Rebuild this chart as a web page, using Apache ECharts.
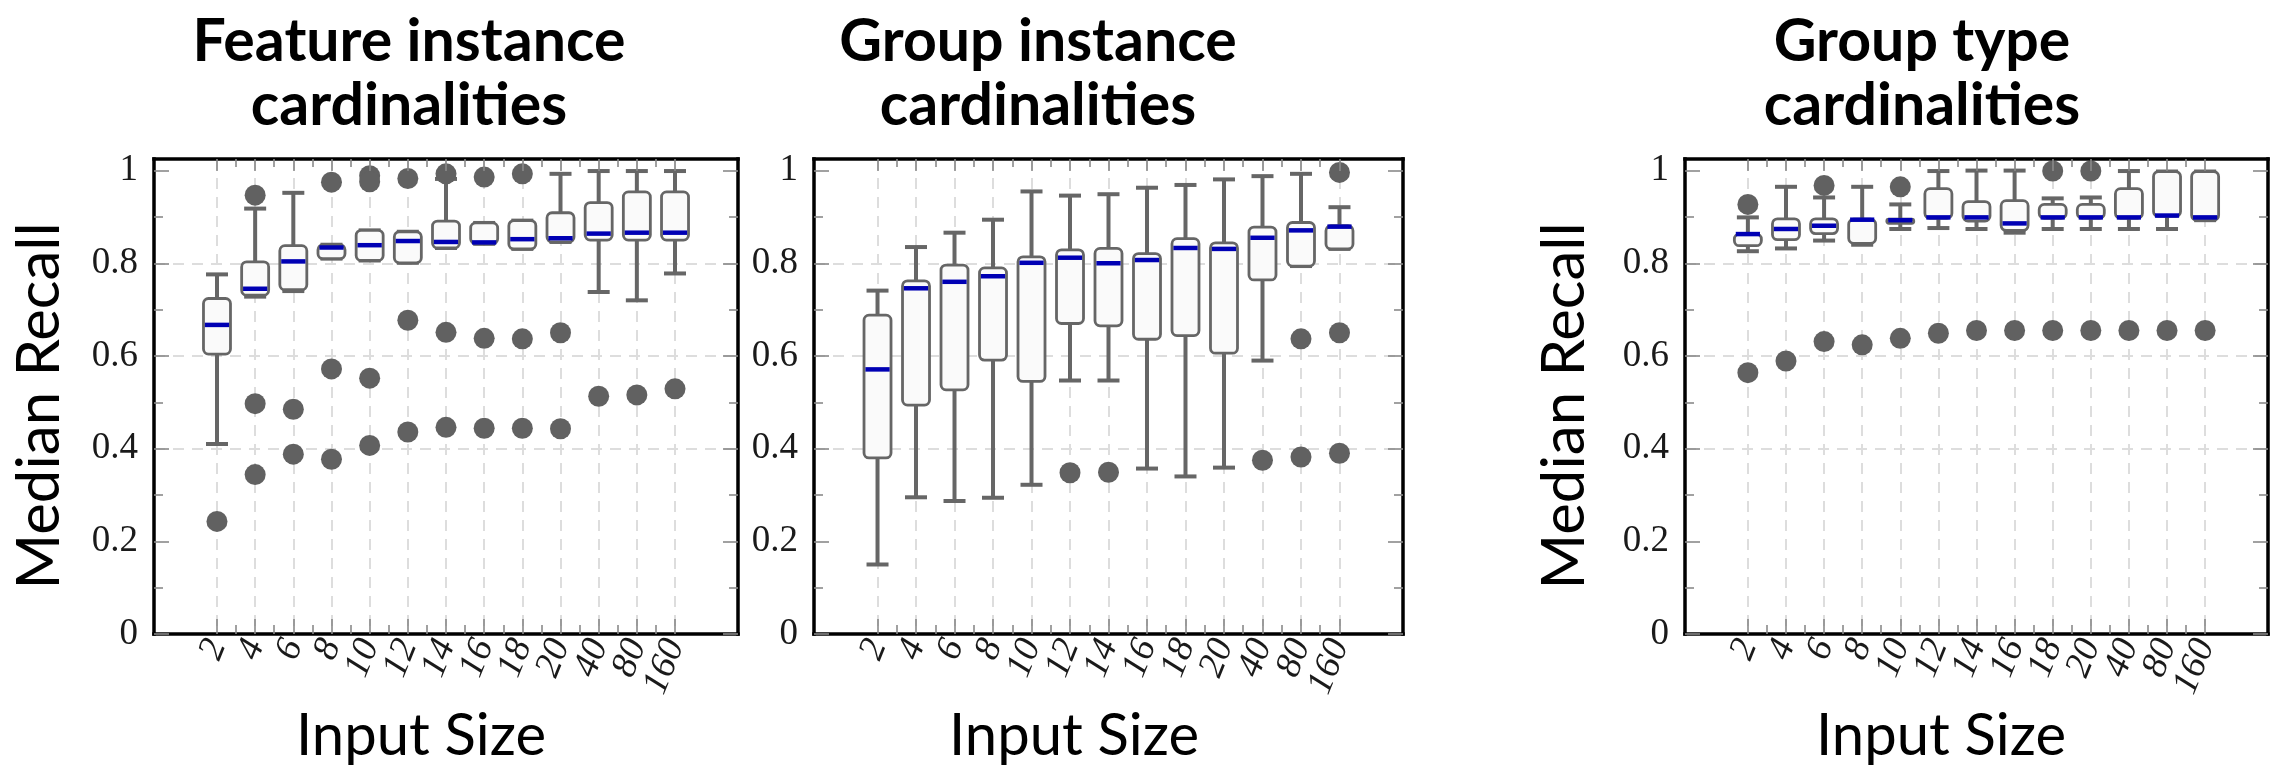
<!DOCTYPE html>
<html>
<head>
<meta charset="utf-8">
<script src="https://cdn.jsdelivr.net/npm/echarts@6/dist/echarts.min.js"></script>
<style>
  html, body { margin: 0; padding: 0; background: #fff; }
  #chart { width: 2282px; height: 765px; }
</style>
</head>
<body>
<div id="chart"></div>
<script>
// x categories (input size)
const inputSizes = ['2', '4', '6', '8', '10', '12', '14', '16', '18', '20', '40', '80', '160'];

// Feature instance cardinalities
const featureLow  = [0.410, 0.728, 0.740, 0.810, 0.806, 0.801, 0.833, 0.842, 0.831, 0.846, 0.738, 0.720, 0.778];
const featureQ1   = [0.604, 0.731, 0.743, 0.810, 0.806, 0.801, 0.833, 0.842, 0.831, 0.846, 0.850, 0.850, 0.850];
const featureMed  = [0.667, 0.745, 0.804, 0.834, 0.839, 0.848, 0.846, 0.845, 0.852, 0.854, 0.864, 0.866, 0.866];
const featureQ3   = [0.724, 0.803, 0.838, 0.840, 0.871, 0.868, 0.891, 0.887, 0.892, 0.909, 0.931, 0.954, 0.954];
const featureHigh = [0.776, 0.918, 0.952, 0.840, 0.871, 0.868, 0.982, 0.887, 0.892, 0.993, 0.999, 0.999, 0.999];
const featureOutliers = [
  [0.243], [0.947, 0.497, 0.344], [0.485, 0.388], [0.975, 0.572, 0.377],
  [0.989, 0.976, 0.552, 0.407], [0.983, 0.677, 0.436], [0.993, 0.651, 0.446],
  [0.986, 0.638, 0.444], [0.993, 0.637, 0.444], [0.650, 0.443], [0.513], [0.516], [0.529]
];

// Group instance cardinalities
const groupLow  = [0.150, 0.295, 0.287, 0.294, 0.322, 0.547, 0.547, 0.357, 0.340, 0.359, 0.590, 0.794, 0.831];
const groupQ1   = [0.380, 0.494, 0.527, 0.591, 0.545, 0.670, 0.665, 0.636, 0.644, 0.606, 0.764, 0.794, 0.831];
const groupMed  = [0.571, 0.746, 0.760, 0.772, 0.801, 0.812, 0.800, 0.807, 0.833, 0.831, 0.855, 0.871, 0.879];
const groupQ3   = [0.688, 0.762, 0.796, 0.790, 0.814, 0.829, 0.832, 0.821, 0.853, 0.844, 0.878, 0.888, 0.881];
const groupHigh = [0.741, 0.835, 0.866, 0.894, 0.955, 0.946, 0.949, 0.963, 0.969, 0.981, 0.988, 0.993, 0.921];
const groupOutliers = [
  [], [], [], [], [], [0.348], [0.349], [], [], [],
  [0.375], [0.637, 0.382], [0.996, 0.650, 0.390]
];

// Group type cardinalities
const typeLow  = [0.826, 0.832, 0.849, 0.840, 0.874, 0.876, 0.874, 0.866, 0.874, 0.874, 0.874, 0.874, 0.893];
const typeQ1   = [0.838, 0.851, 0.864, 0.843, 0.886, 0.897, 0.891, 0.871, 0.897, 0.897, 0.897, 0.901, 0.893];
const typeMed  = [0.863, 0.874, 0.881, 0.894, 0.893, 0.899, 0.899, 0.886, 0.899, 0.899, 0.899, 0.903, 0.899];
const typeQ3   = [0.863, 0.896, 0.896, 0.895, 0.895, 0.961, 0.933, 0.935, 0.927, 0.927, 0.961, 0.998, 0.998];
const typeHigh = [0.899, 0.965, 0.942, 0.965, 0.927, 0.999, 1.000, 1.000, 0.940, 0.942, 0.999, 0.998, 0.998];
const typeOutliers = [
  [0.927, 0.564], [0.589], [0.968, 0.631], [0.624], [0.965, 0.638], [0.649], [0.655],
  [0.655], [0.999, 0.655], [0.999, 0.655], [0.655], [0.655], [0.655]
];

const panels = [
  { title: 'Feature instance\ncardinalities', low: featureLow, q1: featureQ1, med: featureMed, q3: featureQ3, high: featureHigh, out: featureOutliers },
  { title: 'Group instance\ncardinalities', low: groupLow, q1: groupQ1, med: groupMed, q3: groupQ3, high: groupHigh, out: groupOutliers },
  { title: 'Group type\ncardinalities', low: typeLow, q1: typeQ1, med: typeMed, q3: typeQ3, high: typeHigh, out: typeOutliers }
];

// layout
const gridBoxes = [
  { left: 154, width: 584, titleX: 409, xNameX: 421, yNameX: 40 },
  { left: 814, width: 589, titleX: 1038, xNameX: 1074, yNameX: null },
  { left: 1685, width: 583, titleX: 1922, xNameX: 1941, yNameX: 1565 }
];
const TOP = 159, HEIGHT = 475;
const X_MIN = -0.65, X_MAX = 14.65;
const Y_MIN = 0, Y_MAX = 1.025;

const catPos = inputSizes.map((_, i) => i + 1);
const halfPos = inputSizes.slice(1).map((_, i) => i + 1.5);
// labels split over two axes so ECharts does not drop neighbours of the rotated labels
const oddPos = catPos.filter(v => v % 2 === 1);
const evenPos = catPos.filter(v => v % 2 === 0);
const yMajor = [0, 0.2, 0.4, 0.6, 0.8, 1.0];
const yMinor = [0.1, 0.3, 0.5, 0.7, 0.9];
const yGrid = [0.2, 0.4, 0.6, 0.8, 1.0];

const EDGE = '#666666';
const MEDIAN = '#0000b4';
const FLIER = '#616161';
const FRAME = { color: '#000', width: 3.5, cap: 'square' };
const TICK = { color: '#8a8a8a', width: 1.6 };
const GRIDLINE = { color: '#dddddd', width: 2, type: [11, 8] };
const SERIF = '"Liberation Serif", "DejaVu Serif", serif';
const SANS = 'Lato, "Open Sans", sans-serif';

const xLabelStyle = {
  show: true, rotate: 68, margin: 7,
  showMinLabel: true, showMaxLabel: true, hideOverlap: false,
  formatter: v => inputSizes[Math.round(v) - 1],
  fontFamily: SERIF, fontStyle: 'italic', fontSize: 37, color: '#1a1a1a'
};

const xAxes = [];
const yAxes = [];

function addAxis(list, base, extra) {
  list.push(Object.assign({
    type: 'value',
    axisLine: { show: false, onZero: false },
    axisTick: { show: false },
    axisLabel: { show: false },
    splitLine: { show: false }
  }, base, extra));
  return list.length - 1;
}

function buildAxes(g) {
  const xb = { gridIndex: g, min: X_MIN, max: X_MAX };
  const yb = { gridIndex: g, min: Y_MIN, max: Y_MAX };

  // dashed grid lines, below the boxes
  addAxis(xAxes, xb, {
    position: 'bottom', z: 0,
    axisTick: { show: false, customValues: catPos },
    splitLine: { show: true, lineStyle: GRIDLINE }
  });
  addAxis(yAxes, yb, {
    position: 'left', z: 0,
    axisTick: { show: false, customValues: yGrid },
    splitLine: { show: true, showMinLine: false, showMaxLine: false, lineStyle: GRIDLINE }
  });

  // bottom axes: frame line, ticks and labels
  const xMain = addAxis(xAxes, xb, {
    position: 'bottom', z: 5,
    axisLine: { show: true, onZero: false, lineStyle: FRAME },
    axisTick: { show: true, inside: true, length: 15, customValues: catPos, lineStyle: TICK },
    axisLabel: Object.assign({ customValues: oddPos }, xLabelStyle)
  });
  addAxis(xAxes, xb, {
    position: 'bottom', z: 5,
    axisLabel: Object.assign({ customValues: evenPos }, xLabelStyle)
  });
  addAxis(xAxes, xb, {
    position: 'bottom', z: 5,
    axisTick: { show: true, inside: true, length: 9, customValues: halfPos, lineStyle: TICK }
  });
  addAxis(xAxes, xb, {
    position: 'top', z: 5,
    axisLine: { show: true, onZero: false, lineStyle: FRAME },
    axisTick: { show: true, inside: true, length: 12, customValues: catPos, lineStyle: TICK }
  });
  addAxis(xAxes, xb, {
    position: 'top', z: 5,
    axisTick: { show: true, inside: true, length: 8, customValues: halfPos, lineStyle: TICK }
  });

  // left axis with labels
  const yMain = addAxis(yAxes, yb, {
    position: 'left', z: 5,
    axisLine: { show: true, onZero: false, lineStyle: FRAME },
    axisTick: { show: true, inside: true, length: 15, customValues: yMajor, lineStyle: TICK },
    axisLabel: {
      show: true, customValues: yMajor, margin: 16,
      showMinLabel: true, showMaxLabel: true,
      formatter: v => String(Math.round(v * 10) / 10),
      fontFamily: SERIF, fontSize: 37, color: '#1a1a1a'
    }
  });
  addAxis(yAxes, yb, {
    position: 'left', z: 5,
    axisTick: { show: true, inside: true, length: 9, customValues: yMinor, lineStyle: TICK }
  });
  addAxis(yAxes, yb, {
    position: 'right', z: 5,
    axisLine: { show: true, onZero: false, lineStyle: FRAME },
    axisTick: { show: true, inside: true, length: 15, customValues: yMajor, lineStyle: TICK }
  });
  addAxis(yAxes, yb, {
    position: 'right', z: 5,
    axisTick: { show: true, inside: true, length: 9, customValues: yMinor, lineStyle: TICK }
  });

  return { xMain, yMain };
}

// box with rounded corners, whiskers and caps
function renderBox(params, api) {
  const x = api.value(0);
  const pLow = api.coord([x, api.value(1)]);
  const pQ1 = api.coord([x, api.value(2)]);
  const pMed = api.coord([x, api.value(3)]);
  const pQ3 = api.coord([x, api.value(4)]);
  const pHigh = api.coord([x, api.value(5)]);
  const cx = pMed[0];
  const hw = 13.5, cw = 11;
  const whisker = { stroke: EDGE, lineWidth: 4 };
  return {
    type: 'group',
    children: [
      { type: 'line', shape: { x1: cx, y1: pQ3[1], x2: cx, y2: pHigh[1] }, style: whisker },
      { type: 'line', shape: { x1: cx, y1: pQ1[1], x2: cx, y2: pLow[1] }, style: whisker },
      { type: 'line', shape: { x1: cx - cw, y1: pHigh[1], x2: cx + cw, y2: pHigh[1] }, style: whisker },
      { type: 'line', shape: { x1: cx - cw, y1: pLow[1], x2: cx + cw, y2: pLow[1] }, style: whisker },
      {
        type: 'rect',
        shape: { x: cx - hw, y: pQ3[1], width: hw * 2, height: pQ1[1] - pQ3[1], r: 5 },
        style: { fill: '#fafafa', stroke: EDGE, lineWidth: 2.8 }
      },
      { type: 'line', shape: { x1: cx - hw + 1.4, y1: pMed[1], x2: cx + hw - 1.4, y2: pMed[1] }, style: { stroke: MEDIAN, lineWidth: 4.5 } }
    ]
  };
}

const grids = [];
const series = [];
const graphics = [];

panels.forEach((p, g) => {
  const box = gridBoxes[g];
  grids.push({ left: box.left, top: TOP, width: box.width, height: HEIGHT, containLabel: false });
  const { xMain, yMain } = buildAxes(g);

  series.push({
    type: 'custom',
    xAxisIndex: xMain,
    yAxisIndex: yMain,
    renderItem: renderBox,
    encode: { x: 0, y: [1, 2, 3, 4, 5] },
    data: inputSizes.map((_, i) => [i + 1, p.low[i], p.q1[i], p.med[i], p.q3[i], p.high[i]]),
    z: 2
  });

  const fliers = [];
  p.out.forEach((vals, i) => vals.forEach(v => fliers.push([i + 1, v])));
  series.push({
    type: 'scatter',
    xAxisIndex: xMain,
    yAxisIndex: yMain,
    symbolSize: 21,
    itemStyle: { color: FLIER, opacity: 1 },
    data: fliers,
    z: 3
  });

  p.title.split('\n').forEach((line, k) => {
    graphics.push({
      type: 'text', x: box.titleX, y: 42 + k * 64,
      style: { text: line, fontFamily: SANS, fontWeight: 'bold', fontSize: 59, fill: '#000', textAlign: 'center', textVerticalAlign: 'middle' }
    });
  });
  graphics.push({
    type: 'text', x: box.xNameX, y: 736,
    style: { text: 'Input Size', fontFamily: SANS, fontSize: 58, fill: '#000', textAlign: 'center', textVerticalAlign: 'middle' }
  });
  if (box.yNameX !== null) {
    graphics.push({
      type: 'text', x: box.yNameX, y: 406, rotation: Math.PI / 2,
      style: { text: 'Median Recall', fontFamily: SANS, fontSize: 60, fill: '#000', textAlign: 'center', textVerticalAlign: 'middle' }
    });
  }
});

const chart = echarts.init(document.getElementById('chart'));
chart.setOption({
  backgroundColor: '#ffffff',
  animation: false,
  grid: grids,
  xAxis: xAxes,
  yAxis: yAxes,
  series: series,
  graphic: { elements: graphics }
});
</script>
</body>
</html>
